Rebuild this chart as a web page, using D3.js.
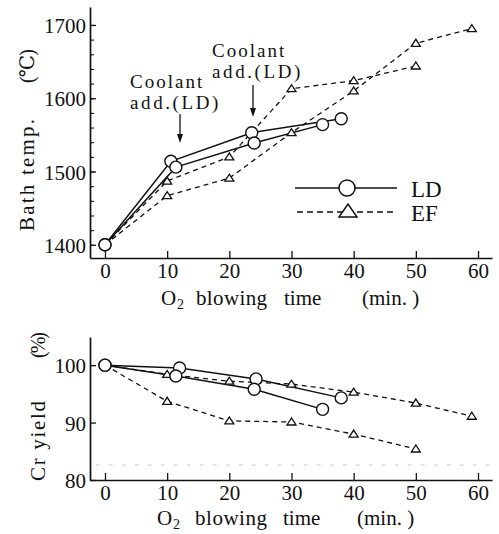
<!DOCTYPE html>
<html>
<head>
<meta charset="utf-8">
<script src="https://cdn.jsdelivr.net/npm/d3@7"></script>
<style>
  html, body { margin: 0; padding: 0; background: #fff; }
  svg { display: block; }
  svg text { font-family: "Liberation Serif", "Times New Roman", "DejaVu Serif", serif !important; fill: #111; }
</style>
</head>
<body>
<svg id="chart" width="499" height="534" font-family="Liberation Serif, serif"></svg>
<script>
// Bath temperature (°C) against O2 blowing time (min.)
const ldTimeA = [0, 10.6, 23.6, 38];
const ldTempA = [1400, 1514, 1553, 1572];
const ldTimeB = [0, 11.4, 24, 35];
const ldTempB = [1400, 1506, 1539, 1564];
const efTimeA = [0, 10, 20, 30, 40, 50];
const efTempA = [1400, 1487, 1520, 1613, 1624, 1644];
const efTimeB = [0, 10, 20, 30, 40, 50, 59];
const efTempB = [1400, 1467, 1491, 1553, 1610, 1675, 1695];

// Cr yield (%) against O2 blowing time (min.)
const ldYieldTimeA = [0, 12, 24.3, 38];
const ldYieldA = [100, 99.5, 97.6, 94.3];
const ldYieldTimeB = [0, 11.4, 24, 35];
const ldYieldB = [100, 98.1, 95.8, 92.3];
const efYieldTimeA = [0, 10, 20, 30, 40, 50, 59];
const efYieldA = [100, 98.4, 97.2, 96.7, 95.3, 93.4, 91.1];
const efYieldTimeB = [0, 10, 20, 30, 40, 50];
const efYieldB = [100, 93.7, 90.3, 90.1, 88.0, 85.4];

const timeTicks = [0, 10, 20, 30, 40, 50, 60];
const tempTicks = [1400, 1500, 1600, 1700];
const tempMinorTicks = d3.range(1400, 1701, 20);
const yieldTicks = [80, 90, 100];

const svg = d3.select("#chart");

const x = d3.scaleLinear().domain([-2.41, 62.25]).range([90, 492]);
const yTemp = d3.scaleLinear().domain([1382, 1724.5]).range([258, 7]);
const yYield = d3.scaleLinear().domain([80, 104.9]).range([480, 337]);

const zip = (xs, ys) => xs.map((v, i) => [v, ys[i]]);
const plain = d3.format("d");

function styleAxis(g) {
  g.attr("font-family", null);
  g.select(".domain").attr("stroke", "#111").attr("stroke-width", 1.7);
  g.selectAll(".tick line").attr("stroke", "#111").attr("stroke-width", 1.3);
  g.selectAll(".tick text").attr("fill", "#111").style("font-size", "21px");
}

function drawPanel(y, yTicks, minorTicks, axisY) {
  const g = svg.append("g");
  // x axis with inward ticks
  const gx = g.append("g").attr("transform", `translate(0,${axisY})`)
    .call(d3.axisBottom(x).tickValues(timeTicks).tickFormat(plain)
      .tickSizeInner(-7).tickSizeOuter(0).tickPadding(5));
  styleAxis(gx);
  // y axis with inward ticks
  const gy = g.append("g").attr("transform", "translate(90,0)")
    .call(d3.axisLeft(y).tickValues(yTicks).tickFormat(plain)
      .tickSizeInner(-6).tickSizeOuter(0).tickPadding(4));
  styleAxis(gy);
  gy.selectAll(".tick text").attr("dy", "0.36em");
  if (minorTicks) {
    const gm = g.append("g").attr("transform", "translate(90,0)")
      .call(d3.axisLeft(y).tickValues(minorTicks).tickSizeInner(-4).tickSizeOuter(0).tickFormat(""));
    gm.select(".domain").remove();
    gm.selectAll(".tick line").attr("stroke", "#111").attr("stroke-width", 1.1);
  }
  return g;
}

const topPanel = drawPanel(yTemp, tempTicks, tempMinorTicks, 258);
const bottomPanel = drawPanel(yYield, yieldTicks, null, 480);

// faint dotted trace across the lower panel
bottomPanel.append("line")
  .attr("x1", x(-1.5)).attr("x2", x(62)).attr("y1", yYield(82.6)).attr("y2", yYield(82.6))
  .attr("stroke", "#c8c8c8").attr("stroke-width", 1).attr("stroke-dasharray", "4,9");

function series(g, y, xs, ys, kind) {
  const data = zip(xs, ys);
  const line = d3.line().x(d => x(d[0])).y(d => y(d[1]));
  g.append("path").datum(data).attr("d", line)
    .attr("fill", "none").attr("stroke", "#111")
    .attr("stroke-width", kind === "ld" ? 1.5 : 1.3)
    .attr("stroke-dasharray", kind === "ld" ? null : "5,4");
  return data;
}

function markers(g, y, data, kind) {
  if (kind === "ld") {
    g.selectAll(null).data(data).enter().append("circle")
      .attr("cx", d => x(d[0])).attr("cy", d => y(d[1])).attr("r", 6)
      .attr("fill", "#fff").attr("stroke", "#111").attr("stroke-width", 1.4);
  } else {
    g.selectAll(null).data(data).enter().append("path")
      .attr("d", d => { const cx = x(d[0]), cy = y(d[1]);
        return `M${cx - 4.5},${cy + 3} L${cx + 4.5},${cy + 3} L${cx},${cy - 4} Z`; })
      .attr("fill", "#fff").attr("stroke", "#111").attr("stroke-width", 1.3);
  }
}

// upper panel
const tEF = [series(topPanel, yTemp, efTimeA, efTempA, "ef"), series(topPanel, yTemp, efTimeB, efTempB, "ef")];
const tLD = [series(topPanel, yTemp, ldTimeA, ldTempA, "ld"), series(topPanel, yTemp, ldTimeB, ldTempB, "ld")];
tEF.forEach(d => markers(topPanel, yTemp, d, "ef"));
tLD.forEach(d => markers(topPanel, yTemp, d, "ld"));

// lower panel
const bEF = [series(bottomPanel, yYield, efYieldTimeA, efYieldA, "ef"), series(bottomPanel, yYield, efYieldTimeB, efYieldB, "ef")];
const bLD = [series(bottomPanel, yYield, ldYieldTimeA, ldYieldA, "ld"), series(bottomPanel, yYield, ldYieldTimeB, ldYieldB, "ld")];
bEF.forEach(d => markers(bottomPanel, yYield, d, "ef"));
bLD.forEach(d => markers(bottomPanel, yYield, d, "ld"));

// axis titles
function xTitle(baseline, xs) {
  const t = svg.append("g").style("font-size", "21px");
  t.append("text").attr("x", xs[0]).attr("y", baseline).text("O");
  t.append("text").attr("x", xs[1]).attr("y", baseline + 4).style("font-size", "14px").text("2");
  t.append("text").attr("x", xs[2]).attr("y", baseline).attr("textLength", xs[3]).attr("lengthAdjust", "spacing").text("blowing");
  t.append("text").attr("x", xs[4]).attr("y", baseline).text("time");
  t.append("text").attr("x", xs[5]).attr("y", baseline).text("(min. )");
}
xTitle(305, [161, 177, 196, 71, 284, 362]);
xTitle(525, [157, 173, 195, 72, 283, 357]);

function yTitle(cx, cy, label, len, size) {
  const t = svg.append("text")
    .attr("transform", `translate(${cx},${cy}) rotate(-90)`)
    .attr("text-anchor", "middle").attr("dy", "0.35em")
    .style("font-size", size + "px").text(label);
  if (len) t.attr("textLength", len).attr("lengthAdjust", "spacing");
}
yTitle(27, 175, "Bath temp.", 112, 21);
yTitle(27, 66, "(℃)", 34, 20);
yTitle(38, 441, "Cr yield", 80, 21);
yTitle(38, 345, "(%)", 26, 20);

// two-line annotations with arrows
function note(x0, y0, ax, ay1, ay2) {
  const g = svg.append("g");
  const t = g.append("text").style("font-size", "19px").attr("x", x0).attr("y", y0);
  t.append("tspan").attr("x", x0).style("letter-spacing", "2px").text("Coolant");
  t.append("tspan").attr("x", x0).attr("dy", 21).style("letter-spacing", "2.6px").text("add.(LD)");
  g.append("line").attr("x1", ax).attr("x2", ax).attr("y1", ay1).attr("y2", ay2 - 3)
    .attr("stroke", "#111").attr("stroke-width", 1.3);
  g.append("path").attr("d", `M${ax - 3},${ay2 - 9} L${ax},${ay2} L${ax + 3},${ay2 - 9} Z`).attr("fill", "#111");
}
note(130, 88, 180, 114, 143);
note(212, 57, 253, 85, 117);

// legend
const leg = svg.append("g");
leg.append("line").attr("x1", 295).attr("x2", 397).attr("y1", 188).attr("y2", 188)
  .attr("stroke", "#111").attr("stroke-width", 1.5);
leg.append("circle").attr("cx", 347).attr("cy", 188).attr("r", 8)
  .attr("fill", "#fff").attr("stroke", "#111").attr("stroke-width", 1.5);
leg.append("line").attr("x1", 297).attr("x2", 397).attr("y1", 212).attr("y2", 212)
  .attr("stroke", "#111").attr("stroke-width", 1.3).attr("stroke-dasharray", "6,4");
leg.append("path").attr("d", "M339,217 L357,217 L348,204 Z")
  .attr("fill", "#fff").attr("stroke", "#111").attr("stroke-width", 1.5);
leg.append("text").attr("x", 411).attr("y", 197).style("font-size", "23px").text("LD");
leg.append("text").attr("x", 411).attr("y", 221).style("font-size", "23px").text("EF");
</script>
</body>
</html>
